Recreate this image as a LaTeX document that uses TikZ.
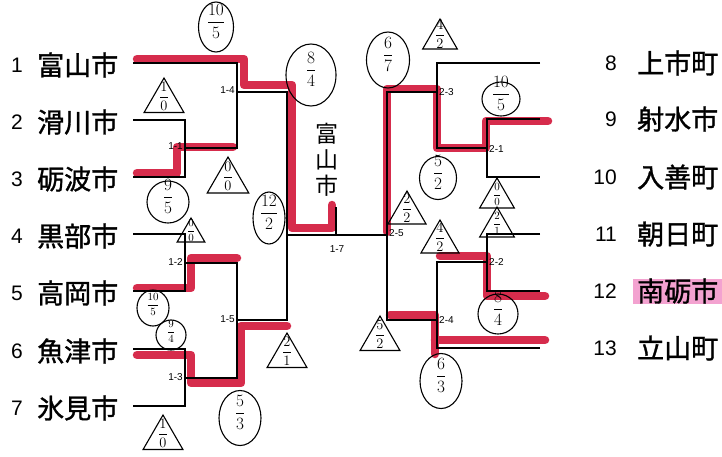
\documentclass[tikz,border=0pt]{standalone}
\usepackage{amsmath}
\usepackage{fontspec}
\usepackage{xcolor}
\usepackage{tikz}
\usetikzlibrary{shapes}
\newfontfamily\jpfont{Noto Sans CJK JP}[FakeBold=1.2]
\newfontfamily\handfont{Noto Sans CJK JP}
\newfontfamily\numfont{Liberation Sans}
\definecolor{marker}{RGB}{214,44,76}
\definecolor{hilite}{RGB}{243,162,208}
\newcommand{\pts}[2]{\smash{$\dfrac{#1}{#2}$}}

\begin{document}
\begin{tikzpicture}[x=1pt, y=-1pt]
  % Tournament bracket styles
  \tikzstyle{team} = [anchor=west, inner sep=0pt, font=\jpfont\fontsize{27}{27}\selectfont]
  \tikzstyle{seed} = [inner sep=0pt, font=\numfont\fontsize{21}{21}\selectfont]
  \tikzstyle{match} = [inner sep=1pt, font=\numfont\fontsize{10}{10}\selectfont]
  \tikzstyle{bracket} = [line width=2.8pt, line join=miter]
  \tikzstyle{redpen} = [draw=marker, line width=8.5pt, line cap=round, line join=round]
  \tikzstyle{win} = [ellipse, draw, line width=1.1pt, inner sep=0pt, font=\fontsize{16}{16}\selectfont]
  \tikzstyle{lose} = [regular polygon, regular polygon sides=3, draw, line width=1.1pt, inner sep=0pt, font=\fontsize{15}{15}\selectfont]
  \tikzstyle{tiny score} = [font=\fontsize{11}{11}\selectfont]

  \useasboundingbox (0,0) rectangle (722,456);

  % Team line ends and match junctions
  \coordinate (t1) at (133,63);  \coordinate (t2) at (133,120); \coordinate (t3) at (133,177);
  \coordinate (t4) at (133,234); \coordinate (t5) at (133,291); \coordinate (t6) at (133,349);
  \coordinate (t7) at (133,406);
  \coordinate (t8) at (540,63);  \coordinate (t9) at (540,119); \coordinate (t10) at (540,177);
  \coordinate (t11) at (540,234); \coordinate (t12) at (540,291); \coordinate (t13) at (540,348);
  \coordinate (m11) at (185,148); \coordinate (m12) at (185,263); \coordinate (m13) at (185,378);
  \coordinate (m14) at (237,92);  \coordinate (m15) at (237,320); \coordinate (m17) at (287,235);
  \coordinate (m21) at (487,148); \coordinate (m22) at (487,262); \coordinate (m23) at (437,92);
  \coordinate (m24) at (437,320); \coordinate (m25) at (387,235);
  \coordinate (tick) at (336,207);

  % Highlighted name
  \fill[hilite] (633,279) rectangle (722,304);

  % Marker strokes along the winners
  \draw[redpen] (137,59) -- (244,59) -- (244,85) -- (292,85) -- (292,228) -- (332,228) -- (332,205);
  \draw[redpen] (137,173) -- (177,173) -- (177,147) -- (233,147);
  \draw[redpen] (137,288) -- (191,288) -- (191,258) -- (237,258);
  \draw[redpen] (137,355) -- (191,355) -- (191,383) -- (241,383) -- (241,326) -- (287,326);
  \draw[redpen] (548,121) -- (486,121) -- (486,148) -- (437,148) -- (437,89) -- (387,89) -- (387,232);
  \draw[redpen] (545,296) -- (487,296) -- (487,256) -- (440,256);
  \draw[redpen] (545,340) -- (435,340);
  \draw[redpen] (435,354) -- (435,315) -- (390,315);

  % Bracket lines
  \draw[bracket] (t2) -| (m11) |- (t3);
  \draw[bracket] (t1) -| (m14) |- (m11);
  \draw[bracket] (t4) -| (m12) |- (t5);
  \draw[bracket] (t6) -| (m13) |- (t7);
  \draw[bracket] (m12) -| (m15) |- (m13);
  \draw[bracket] (m14) -| (m17) |- (m15);
  \draw[bracket] (m17) -- (m25);
  \draw[bracket] (t9) -| (m21) |- (t10);
  \draw[bracket] (t8) -| (m23) |- (m21);
  \draw[bracket] (t11) -| (m22) |- (t12);
  \draw[bracket] (m22) -| (m24) |- (t13);
  \draw[bracket] (m23) -| (m25) |- (m24);
  \draw[line width=2pt] (tick) -- (tick |- m17);

  % Teams - left block
  \node[seed, anchor=west] (k1) at (11,65) {1};  \node[team] (n1) at (37,65) {富山市};
  \node[seed, anchor=west] (k2) at (11,122) {2}; \node[team] (n2) at (37,122) {滑川市};
  \node[seed, anchor=west] (k3) at (11,179) {3}; \node[team] (n3) at (37,179) {砺波市};
  \node[seed, anchor=west] (k4) at (11,236) {4}; \node[team] (n4) at (37,236) {黒部市};
  \node[seed, anchor=west] (k5) at (11,293) {5}; \node[team] (n5) at (37,293) {高岡市};
  \node[seed, anchor=west] (k6) at (11,351) {6}; \node[team] (n6) at (37,351) {魚津市};
  \node[seed, anchor=west] (k7) at (11,408) {7}; \node[team] (n7) at (37,408) {氷見市};

  % Teams - right block
  \node[seed, anchor=east] (k8) at (617,63) {8};    \node[team] (n8) at (637,63) {上市町};
  \node[seed, anchor=east] (k9) at (617,119) {9};   \node[team] (n9) at (637,119) {射水市};
  \node[seed, anchor=east] (k10) at (617,177) {10}; \node[team] (n10) at (637,177) {入善町};
  \node[seed, anchor=east] (k11) at (617,234) {11}; \node[team] (n11) at (637,234) {朝日町};
  \node[seed, anchor=east] (k12) at (617,291) {12}; \node[team] (n12) at (637,291) {南砺市};
  \node[seed, anchor=east] (k13) at (617,348) {13}; \node[team] (n13) at (637,348) {立山町};

  % Match numbers
  \node[match, anchor=east] (l11) at (184,146) {1-1};
  \node[match, anchor=east] (l12) at (184,262) {1-2};
  \node[match, anchor=east] (l13) at (184,377) {1-3};
  \node[match, anchor=east] (l14) at (236,90) {1-4};
  \node[match, anchor=east] (l15) at (236,319) {1-5};
  \node[match] (l17) at (337,249) {1-7};
  \node[match, anchor=west] (l21) at (488,149) {2-1};
  \node[match, anchor=west] (l22) at (488,262) {2-2};
  \node[match, anchor=west] (l23) at (438,92) {2-3};
  \node[match, anchor=west] (l24) at (438,320) {2-4};
  \node[match, anchor=west] (l25) at (388,233) {2-5};

  % Winner written beside the final
  \node[inner sep=0pt, align=center, font=\handfont\fontsize{23}{26}\selectfont] (champ) at (327,160) {富\\山\\市};

  % Scores - circles for winners, triangles for losers
  \node[win, minimum width=35, minimum height=50] (s1) at (216,27) {\pts{10}{5}};
  \node[lose, minimum size=46] (s2) at (164,101) {\pts{1}{0}};
  \node[win, minimum width=50, minimum height=62] (s3) at (311,75) {\pts{8}{4}};
  \node[lose, minimum size=48] (s4) at (228,181) {\pts{0}{0}};
  \node[win, minimum width=42, minimum height=42] (s5) at (168,202) {\pts{9}{5}};
  \node[lose, tiny score, minimum size=32] (s6) at (191,234) {\pts{0}{0}};
  \node[win, minimum width=32, minimum height=52] (s7) at (269,218) {\pts{12}{2}};
  \node[win, tiny score, minimum width=32, minimum height=36] (s8) at (153,308) {\pts{10}{5}};
  \node[win, tiny score, minimum width=30, minimum height=30] (s9) at (171,335) {\pts{9}{4}};
  \node[lose, minimum size=46] (s10) at (287,356) {\pts{2}{1}};
  \node[win, minimum width=42, minimum height=55] (s11) at (240,418) {\pts{5}{3}};
  \node[lose, minimum size=46] (s12) at (163,438) {\pts{1}{0}};
  \node[lose, minimum size=40] (s13) at (440,39) {\pts{4}{2}};
  \node[win, minimum width=43, minimum height=56] (s14) at (388,60) {\pts{6}{7}};
  \node[win, minimum width=38, minimum height=34] (s15) at (501,99) {\pts{10}{5}};
  \node[win, minimum width=37, minimum height=43] (s16) at (438,178) {\pts{5}{2}};
  \node[lose, minimum size=44] (s17) at (407,213) {\pts{2}{2}};
  \node[lose, minimum size=44] (s18) at (440,242) {\pts{4}{2}};
  \node[lose, tiny score, minimum size=40] (s19) at (497,198) {\pts{0}{0}};
  \node[lose, tiny score, minimum size=40] (s20) at (497,227) {\pts{2}{1}};
  \node[win, minimum width=40, minimum height=40] (s21) at (498,314) {\pts{8}{4}};
  \node[win, minimum width=42, minimum height=55] (s22) at (441,381) {\pts{6}{3}};
  \node[lose, minimum size=46] (s23) at (380,339) {\pts{5}{2}};

\end{tikzpicture}
\end{document}
